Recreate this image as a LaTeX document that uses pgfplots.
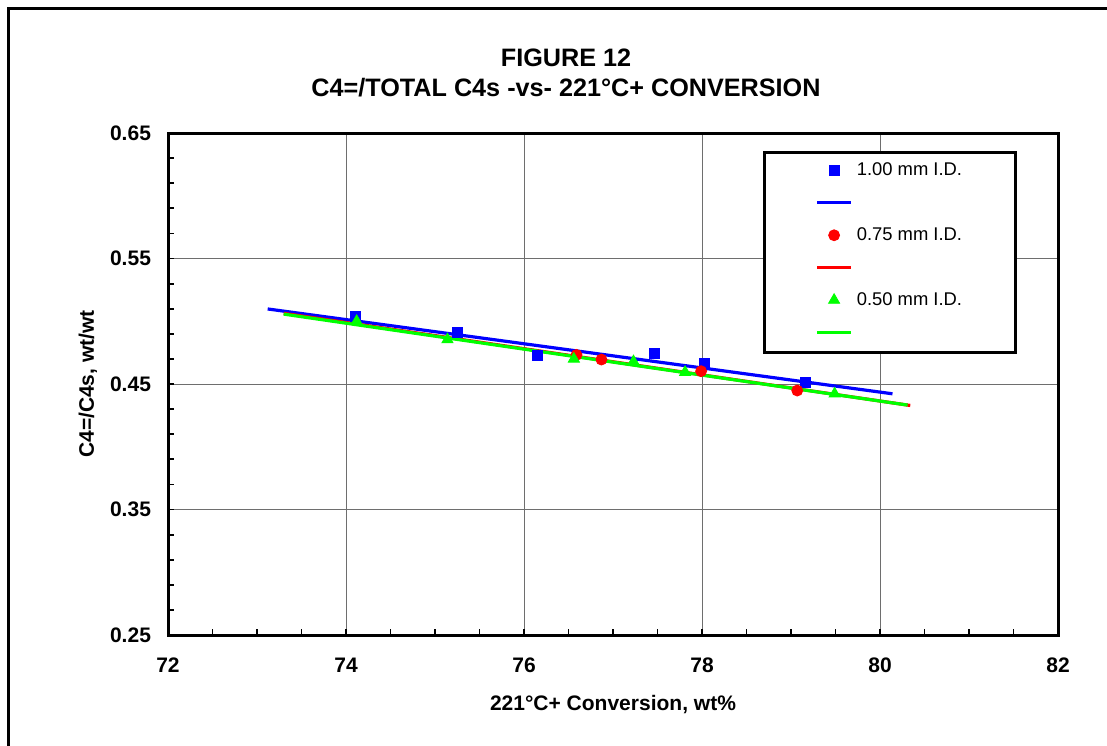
\documentclass[border=0pt]{standalone}
\usepackage{fontspec}
\setmainfont{Liberation Sans}
\usepackage{pgfplots}
\pgfplotsset{compat=1.18}

\definecolor{serblue}{RGB}{0,0,255}
\definecolor{serred}{RGB}{255,0,0}
\definecolor{sergreen}{RGB}{0,255,0}
\definecolor{gridgray}{RGB}{110,110,110}

\begin{document}
\begin{tikzpicture}
\useasboundingbox (-84pt,-55pt) rectangle (469.5pt,317.5pt);
% chart area frame
\draw[line width=1.5pt, line join=miter] (-79.75pt,-80pt) -- (-79.75pt,313.25pt) -- (490pt,313.25pt);
% titles
\node[font=\fontsize{12.6}{15}\selectfont\bfseries, anchor=base] at (199pt,284pt) {FIGURE 12};
\node[font=\fontsize{12.6}{15}\selectfont\bfseries, anchor=base] at (199pt,269pt) {C4=/TOTAL C4s -vs- 221°C+ CONVERSION};

\begin{axis}[
  at={(0,0)}, anchor=south west,
  scale only axis, width=445pt, height=251pt,
  xmin=72, xmax=82, ymin=0.25, ymax=0.65,
  xtick={72,74,76,78,80,82},
  ytick={0.25,0.35,0.45,0.55,0.65},
  minor x tick num=3, minor y tick num=4,
  tick pos=left, tick align=inside,
  major tick length=3pt, minor tick length=3pt,
  every tick/.style={black, line width=0.9pt},
  axis line style={line width=1.5pt},
  xmajorgrids, ymajorgrids,
  major grid style={gridgray, line width=0.5pt},
  tick label style={font=\fontsize{10.5}{12}\selectfont\bfseries},
  /pgf/number format/assume math mode=true,
  yticklabel style={/pgf/number format/.cd, fixed, fixed zerofill, precision=2, /tikz/.cd, xshift=-5pt},
  xticklabel style={yshift=-8pt},
  xlabel={221°C+ Conversion, wt\%},
  ylabel={C4=/C4s, wt/wt},
  label style={font=\fontsize{10.5}{12}\selectfont\bfseries},
  xlabel style={at={(axis description cs:0.5,0)}, anchor=center, yshift=-35pt},
  ylabel style={at={(axis description cs:0,0.5)}, anchor=center, yshift=40pt},
  legend style={at={(rel axis cs:0.6697,0.960)}, anchor=north west,
    draw=none, fill=none,
    font=\fontsize{9.2}{11}\selectfont,
    inner xsep=25.5pt, inner ysep=2.5pt, row sep=7.5pt},
  legend cell align=left,
]
\addlegendimage{only marks, mark=square*, mark size=2.5pt, serblue, mark options={line width=0.4pt}}
\addlegendentry{1.00 mm I.D.}
\addlegendimage{serblue, line width=1.6pt}
\addlegendentry{\mbox{}}
\addlegendimage{only marks, mark=*, mark size=2.75pt, serred, mark options={line width=0.4pt}}
\addlegendentry{0.75 mm I.D.}
\addlegendimage{serred, line width=1.6pt}
\addlegendentry{\mbox{}}
\addlegendimage{only marks, mark=triangle*, mark size=3.2pt, sergreen, mark options={line width=0.4pt}}
\addlegendentry{0.50 mm I.D.}
\addlegendimage{sergreen, line width=1.6pt}
\addlegendentry{\mbox{}}

% linear trend lines
\addplot[serblue, line width=1.6pt, forget plot] coordinates {(73.12,0.5098) (80.14,0.4422)};
\addplot[serred, line width=1.6pt, forget plot] coordinates {(73.30,0.5063) (80.34,0.4329)};
\addplot[sergreen, line width=1.6pt, forget plot] coordinates {(73.30,0.5057) (80.31,0.4332)};

% measured points
\addplot[only marks, mark=square*, mark size=2.5pt, serblue, mark options={line width=0.4pt}, forget plot] coordinates {
  (74.10,0.5037) (75.25,0.4912) (76.15,0.4724) (77.47,0.4745) (78.03,0.4665) (79.16,0.4514)};
\addplot[only marks, mark=*, mark size=2.75pt, serred, mark options={line width=0.4pt}, forget plot] coordinates {
  (76.59,0.4732) (76.87,0.4695) (77.99,0.4602) (79.07,0.4448)};
\addplot[only marks, mark=triangle*, mark size=3.2pt, sergreen, mark options={line width=0.4pt}, forget plot] coordinates {
  (74.12,0.5000) (75.14,0.4854) (76.56,0.4700) (77.23,0.4679) (77.81,0.4594) (79.49,0.4422)};

% legend box
\filldraw[fill=white, draw=black, line width=1.5pt]
  (rel axis cs:0.6697,0.9602) rectangle (rel axis cs:0.9517,0.5637);
\end{axis}
\end{tikzpicture}
\end{document}
